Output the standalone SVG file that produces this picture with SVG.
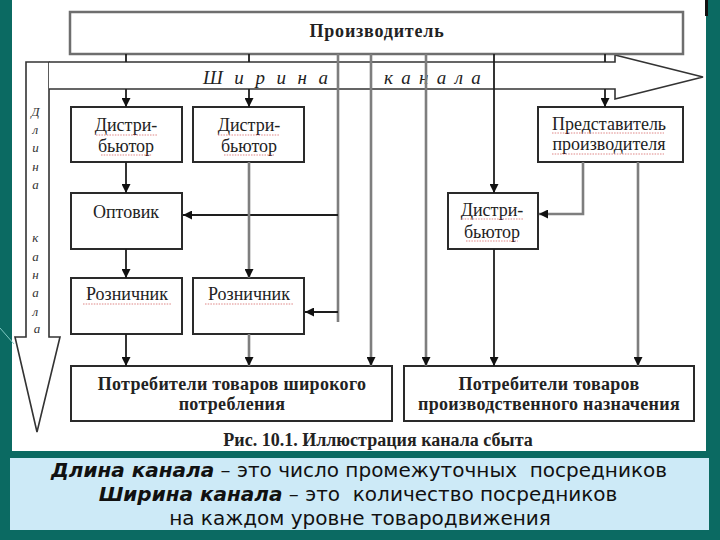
<svg xmlns="http://www.w3.org/2000/svg" width="720" height="540" viewBox="0 0 720 540">
<style>
.box{fill:#fff;stroke:#2a2a2a;stroke-width:2}
.lbl{font-family:"Liberation Serif",serif;font-size:18px;fill:#222;text-anchor:middle}
.bold{font-weight:bold}
.k{fill:none;stroke:#1e1e1e;stroke-width:1.8}
.g{fill:none;stroke:#7e7e7e;stroke-width:2.6}
.blk{fill:#fff;stroke:#333;stroke-width:1.6;stroke-linejoin:miter}
.sp{fill:none;stroke:#d04a4a;stroke-width:0.9;stroke-dasharray:1.5 1.2;opacity:0.75}
.note{font-family:"DejaVu Sans",sans-serif;font-size:20px;fill:#111;text-anchor:middle}
</style>
<defs>
<marker id="ah" viewBox="0 0 10 10" refX="10" refY="5" markerWidth="9" markerHeight="9" markerUnits="userSpaceOnUse" orient="auto">
<path d="M0,0 L10,5 L0,10 z" fill="#111"/>
</marker>
</defs>

<!-- background -->
<rect x="0" y="0" width="720" height="540" fill="#0B6A62"/>
<rect x="12" y="0" width="694" height="451" fill="#fff"/>
<rect x="10" y="458" width="699" height="72" fill="#CDEAF7"/>
<line x1="0" y1="328" x2="14" y2="344" stroke="#7fc9c2" stroke-width="1"/>
<rect x="705" y="0" width="3" height="16" fill="#111"/>

<!-- block arrows -->
<g id="length-arrow">
<polygon class="blk" points="26,62 49,62 49,337 60,337 37,432 15,337 26,337"/>
<text font-family="Liberation Serif,serif" font-size="13" font-style="italic" fill="#333" text-anchor="middle">
<tspan x="37" y="116">Д</tspan>
<tspan x="37" y="134">л</tspan>
<tspan x="37" y="152">и</tspan>
<tspan x="37" y="171">н</tspan>
<tspan x="37" y="189">а</tspan>
<tspan x="37" y="242">к</tspan>
<tspan x="37" y="261">а</tspan>
<tspan x="37" y="279">н</tspan>
<tspan x="37" y="297">а</tspan>
<tspan x="37" y="316">л</tspan>
<tspan x="37" y="333">а</tspan>
</text>
</g>
<g id="width-arrow">
<polyline class="blk" points="49,62 615,62 615,55 703,77 615,99 615,89 49,89"/>
<text font-family="Liberation Serif,serif" font-size="19" font-style="italic" fill="#222"><tspan x="203" y="84" letter-spacing="3.4">Ш и р и н а</tspan> <tspan x="384" y="84" letter-spacing="1.8">к а н а л а</tspan></text>
</g>

<!-- nodes -->
<g id="producer">
<rect x="70" y="12" width="613" height="42" fill="#fff" stroke="#6e6e6e" stroke-width="2.5"/>
<text class="lbl bold" x="377" y="37" font-size="22" letter-spacing="0.8">Производитель</text>
</g>
<g id="distributor1">
<rect class="box" x="71" y="107" width="111" height="55"/>
<text class="lbl" x="126" y="131">Дистри-</text>
<text class="lbl" x="126" y="152">бьютор</text>
<path class="sp" d="M96,135 H157 M101,155 H152"/>
</g>
<g id="distributor2">
<rect class="box" x="193" y="107" width="111" height="55"/>
<text class="lbl" x="249" y="131">Дистри-</text>
<text class="lbl" x="249" y="152">бьютор</text>
<path class="sp" d="M218,135 H280 M224,155 H274"/>
</g>
<g id="representative">
<rect class="box" x="538" y="107" width="145" height="55"/>
<text class="lbl" x="609" y="130">Представитель</text>
<text class="lbl" x="609" y="150">производителя</text>
<path class="sp" d="M552,133 H664 M552,154 H664"/>
</g>
<g id="wholesaler">
<rect class="box" x="71" y="193" width="111" height="56"/>
<text class="lbl" x="126" y="218">Оптовик</text>
</g>
<g id="distributor3">
<rect class="box" x="448" y="193" width="90" height="56"/>
<text class="lbl" x="492" y="216">Дистри-</text>
<text class="lbl" x="492" y="238">бьютор</text>
<path class="sp" d="M462,219 H523 M466,241 H518"/>
</g>
<g id="retailer1">
<rect class="box" x="71" y="278" width="111" height="56"/>
<text class="lbl" x="127" y="300">Розничник</text>
<path class="sp" d="M83,304 H171"/>
</g>
<g id="retailer2">
<rect class="box" x="193" y="278" width="111" height="56"/>
<text class="lbl" x="249" y="300">Розничник</text>
<path class="sp" d="M205,304 H293"/>
</g>
<g id="consumers-mass">
<rect class="box" x="71" y="366" width="321" height="55"/>
<text class="lbl bold" x="232" y="390" letter-spacing="0.3">Потребители товаров широкого</text>
<text class="lbl bold" x="232" y="410" letter-spacing="0.3">потребления</text>
</g>
<g id="consumers-industrial">
<rect class="box" x="404" y="366" width="290" height="55"/>
<text class="lbl bold" x="549" y="390" letter-spacing="0.3">Потребители товаров</text>
<text class="lbl bold" x="549" y="410" letter-spacing="0.3">производственного назначения</text>
</g>

<!-- connectors -->
<g id="connectors">
<path class="k" d="M126,54 V62"/>
<path class="k" d="M126,89 V107" marker-end="url(#ah)"/>
<path class="k" d="M249,54 V62"/>
<path class="k" d="M249,89 V107" marker-end="url(#ah)"/>
<path class="k" d="M605,54 V62"/>
<path class="k" d="M605,89 V107" marker-end="url(#ah)"/>
<path class="g" d="M338,54 V322"/>
<path class="k" d="M338,215 H183" marker-end="url(#ah)"/>
<path class="k" d="M338,312 H305" marker-end="url(#ah)"/>
<path class="g" d="M371,54 V366" marker-end="url(#ah)"/>
<path class="g" d="M426,54 V366" marker-end="url(#ah)"/>
<path class="k" d="M494,54 V193" marker-end="url(#ah)"/>
<path class="k" d="M126,162 V193" marker-end="url(#ah)"/>
<path class="k" d="M126,249 V278" marker-end="url(#ah)"/>
<path class="g" d="M249,162 V278" marker-end="url(#ah)"/>
<path class="k" d="M126,334 V366" marker-end="url(#ah)"/>
<path class="g" d="M249,334 V366" marker-end="url(#ah)"/>
<path class="g" d="M583,162 V214 H539" marker-end="url(#ah)"/>
<path class="g" d="M638,162 V366" marker-end="url(#ah)"/>
<path class="k" d="M494,249 V366" marker-end="url(#ah)"/>
</g>

<!-- caption and notes -->
<text class="lbl bold" x="378" y="446" font-size="16">Рис. 10.1. Иллюстрация канала сбыта</text>
<text class="note" x="359" y="477" xml:space="preserve"><tspan font-weight="bold" font-style="italic">Длина канала</tspan> – это число промежуточных  посредников</text>
<text class="note" x="358" y="501" xml:space="preserve"><tspan font-weight="bold" font-style="italic">Ширина канала</tspan> – это  количество посредников</text>
<text class="note" x="360" y="525">на каждом уровне товародвижения</text>
</svg>
